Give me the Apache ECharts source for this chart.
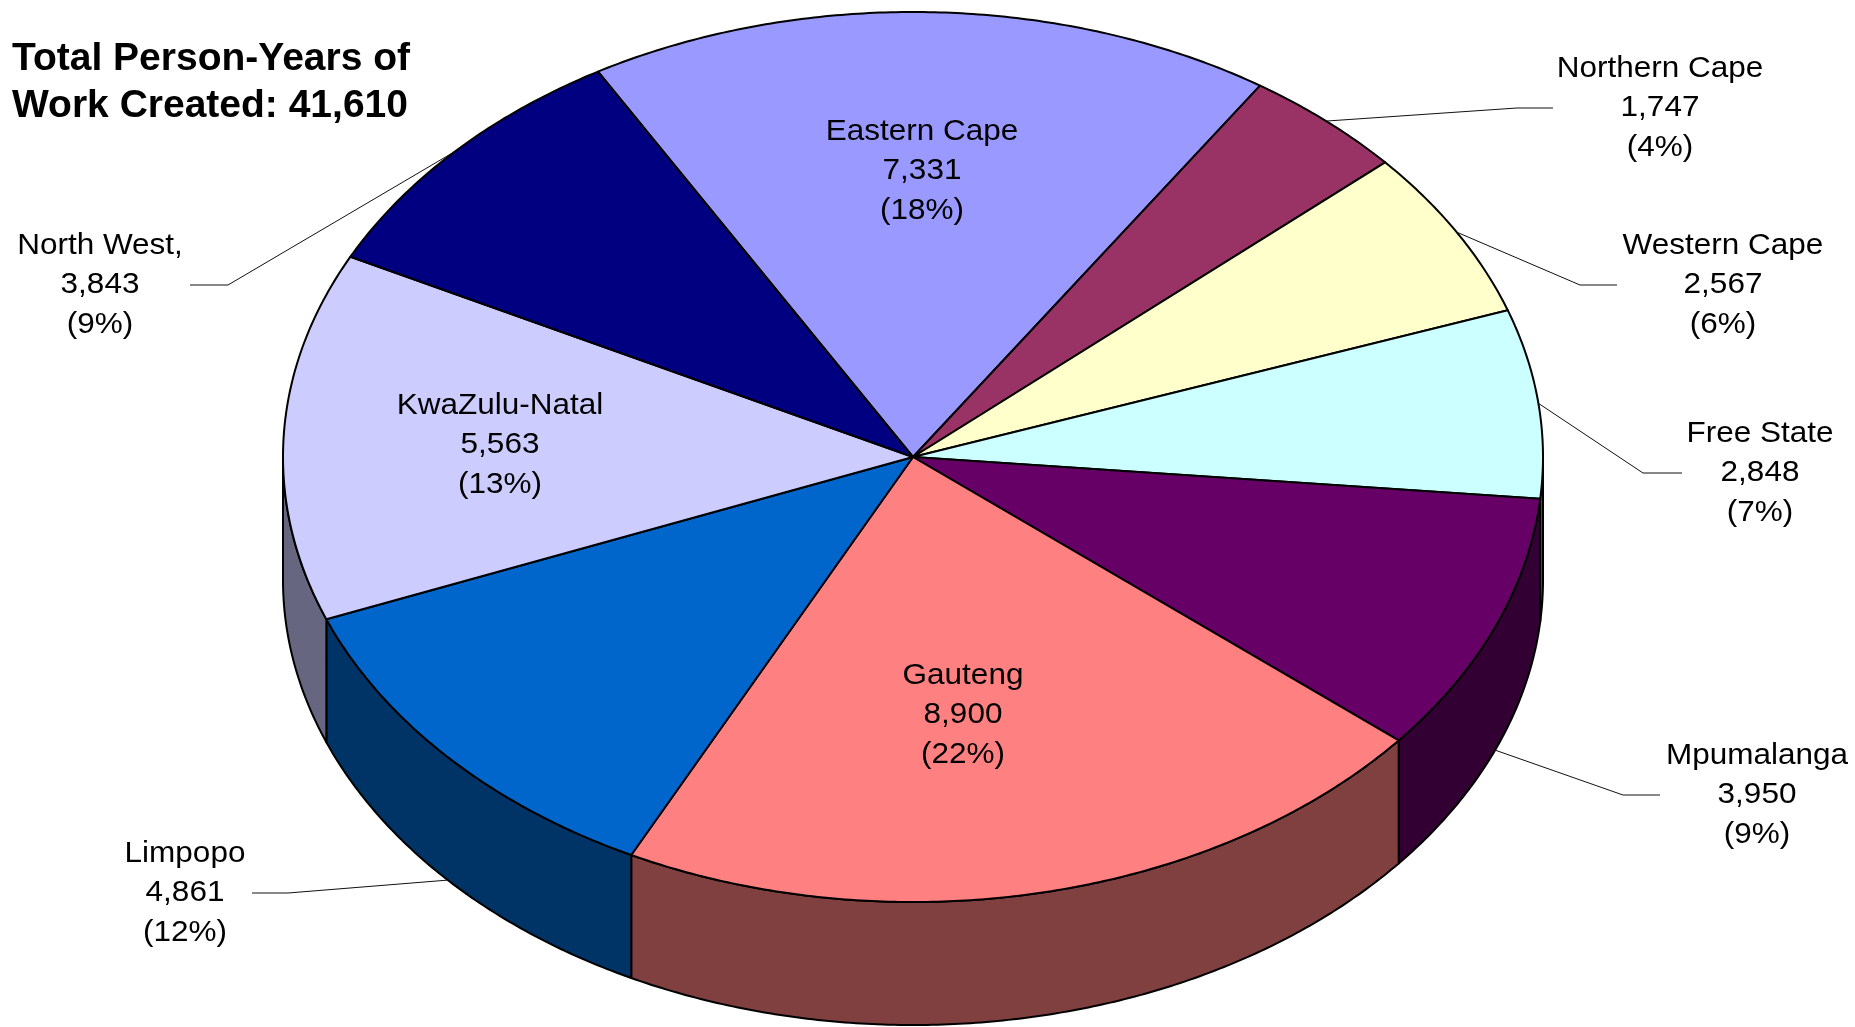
<!DOCTYPE html>
<html>
<head>
<meta charset="utf-8">
<title>Person-Years of Work Created by Province</title>
<style>
  html, body { margin: 0; padding: 0; background: #ffffff; }
  #chart { width: 1855px; height: 1027px; }
</style>
<script src="https://cdn.jsdelivr.net/npm/echarts@6/dist/echarts.min.js"></script>
</head>
<body>
<div id="chart"></div>
<script>
// Provinces, clockwise from the top of the pie
const regions = ['Eastern Cape', 'Northern Cape', 'Western Cape', 'Free State', 'Mpumalanga',
                 'Gauteng', 'Limpopo', 'KwaZulu-Natal', 'North West,'];
const personYears = [7331, 1747, 2567, 2848, 3950, 8900, 4861, 5563, 3843];
const sharePct = [18, 4, 6, 7, 9, 22, 12, 13, 9];
const sliceColors = ['#9999FF', '#993366', '#FFFFCC', '#CCFFFF', '#660066',
                     '#FF8080', '#0066CC', '#CCCCFF', '#000080'];

// Pie geometry (pixels): ellipse centre, radii, wall height, first slice angle
const CX = 913, CY = 457, RX = 630, RY = 445, DEPTH = 123, START_DEG = 120;

// Label anchors; outside labels also get the x of the leader elbow and end
const labelLayout = [
  { x: 922,  y: 171 },
  { x: 1660, y: 108, elbow: 1517, end: 1553 },
  { x: 1723, y: 285, elbow: 1580, end: 1617 },
  { x: 1760, y: 473, elbow: 1643, end: 1682 },
  { x: 1757, y: 795, elbow: 1623, end: 1660 },
  { x: 963,  y: 715 },
  { x: 185,  y: 893, elbow: 288, end: 252 },
  { x: 500,  y: 445 },
  { x: 100,  y: 285, elbow: 228, end: 190 }
];

const FONT = '"Liberation Sans", Arial, Helvetica, sans-serif';
const total = personYears.reduce((a, b) => a + b, 0);

function ellipsePoint(deg, dy) {
  const r = deg * Math.PI / 180;
  return [CX + RX * Math.cos(r), CY - RY * Math.sin(r) + (dy || 0)];
}
function arcPoints(fromDeg, toDeg, dy) {
  const n = Math.max(2, Math.ceil(Math.abs(toDeg - fromDeg) / 0.5));
  const pts = [];
  for (let k = 0; k <= n; k++) pts.push(ellipsePoint(fromDeg + (toDeg - fromDeg) * k / n, dy));
  return pts;
}
function shade(hex) {
  const n = parseInt(hex.slice(1), 16);
  const c = [(n >> 16) & 255, (n >> 8) & 255, n & 255].map(x => Math.round(x * 0.5));
  return 'rgb(' + c.join(',') + ')';
}
function sliceAngles(idx) {
  let before = 0;
  for (let k = 0; k < idx; k++) before += personYears[k];
  const a1 = START_DEG - before / total * 360;
  const a2 = a1 - personYears[idx] / total * 360;
  return [a1, a2];
}

function renderSlice(params, api) {
  const i = api.value(0);
  const [a1, a2] = sliceAngles(i);
  const children = [];
  // outer wall, only where it faces the viewer (lower half of the ellipse)
  const hi = Math.min(a1, 0), lo = Math.max(a2, -180);
  if (hi > lo) {
    const pts = arcPoints(hi, lo, 0).concat(arcPoints(lo, hi, DEPTH));
    children.push({
      type: 'polygon',
      shape: { points: pts },
      style: { fill: shade(sliceColors[i]), stroke: '#000', lineWidth: 2, lineJoin: 'round' }
    });
  }
  // top face
  children.push({
    type: 'polygon',
    shape: { points: [[CX, CY]].concat(arcPoints(a1, a2, 0)) },
    style: { fill: sliceColors[i], stroke: '#000', lineWidth: 2, lineJoin: 'round' }
  });
  return { type: 'group', children };
}

function renderLabel(params, api) {
  const i = api.value(0);
  const v = api.value(1);
  const lay = labelLayout[i];
  const children = [];
  if (lay.elbow !== undefined) {
    const [a1, a2] = sliceAngles(i);
    const mid = (a1 + a2) / 2;
    const onFront = Math.sin(mid * Math.PI / 180) < 0;
    const start = ellipsePoint(mid, onFront ? DEPTH : 0);
    children.push({
      type: 'polyline',
      shape: { points: [start, [lay.elbow, lay.y], [lay.end, lay.y]] },
      style: { stroke: '#111', lineWidth: 1, fill: null }
    });
  }
  children.push({
    type: 'text',
    x: lay.x, y: lay.y,
    scaleX: 1.05,
    style: {
      text: regions[i] + '\n' + v.toLocaleString('en-US') + '\n(' + sharePct[i] + '%)',
      font: '30px ' + FONT,
      fill: '#000',
      align: 'center', verticalAlign: 'middle',
      textAlign: 'center', textVerticalAlign: 'middle',
      lineHeight: 39.5
    }
  });
  return { type: 'group', children };
}

const seriesData = personYears.map((v, i) => [i, v]);

const chart = echarts.init(document.getElementById('chart'), null, { renderer: 'canvas' });
chart.setOption({
  animation: false,
  backgroundColor: '#ffffff',
  graphic: [
    {
      type: 'text', x: 12, y: 59,
      style: { text: 'Total Person-Years of', font: 'bold 39px ' + FONT, fill: '#000',
               align: 'left', verticalAlign: 'middle', textAlign: 'left', textVerticalAlign: 'middle' }
    },
    {
      type: 'text', x: 12, y: 106,
      style: { text: 'Work Created: ' + total.toLocaleString('en-US'), font: 'bold 39px ' + FONT, fill: '#000',
               align: 'left', verticalAlign: 'middle', textAlign: 'left', textVerticalAlign: 'middle' }
    }
  ],
  series: [
    { type: 'custom', coordinateSystem: 'none', renderItem: renderSlice, data: seriesData, z: 2, silent: true },
    { type: 'custom', coordinateSystem: 'none', renderItem: renderLabel, data: seriesData, z: 3, silent: true }
  ]
});
</script>
</body>
</html>
